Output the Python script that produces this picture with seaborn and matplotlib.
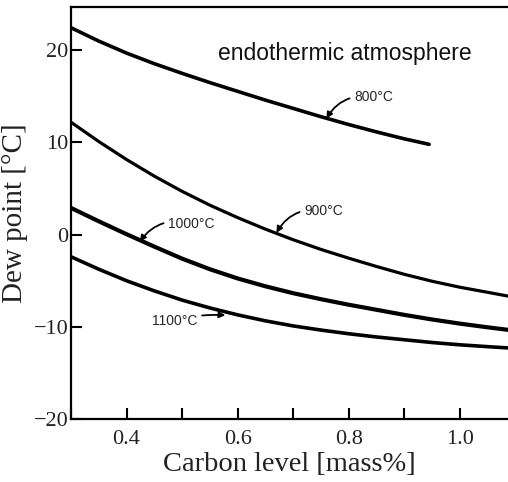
# Dew point vs carbon level in an endothermic atmosphere
import numpy as np
import pandas as pd
import matplotlib
matplotlib.use("Agg")
import matplotlib.pyplot as plt
import seaborn as sns

# ------------------------ #
# Data
# ------------------------ #
carbon_800 = [0.30, 0.35, 0.40, 0.45, 0.50, 0.55, 0.60, 0.65, 0.70, 0.75, 0.80, 0.85, 0.90, 0.945]
dew_800 = [22.45, 21.0, 19.7, 18.55, 17.5, 16.5, 15.55, 14.6, 13.7, 12.8, 11.95, 11.15, 10.4, 9.8]

carbon_all = [0.30, 0.35, 0.40, 0.45, 0.50, 0.55, 0.60, 0.65, 0.70, 0.75, 0.80, 0.85,
              0.90, 0.95, 1.00, 1.05, 1.09]
dew_900 = [12.2, 10.1, 8.15, 6.35, 4.7, 3.2, 1.85, 0.6, -0.55, -1.6, -2.55, -3.45,
           -4.3, -5.05, -5.7, -6.25, -6.7]
dew_1000 = [2.9, 1.45, 0.05, -1.3, -2.6, -3.75, -4.75, -5.6, -6.35, -7.0, -7.6, -8.15,
            -8.7, -9.2, -9.65, -10.05, -10.35]
dew_1100 = [-2.4, -3.75, -5.0, -6.1, -7.1, -7.95, -8.7, -9.35, -9.9, -10.35, -10.75, -11.1,
            -11.4, -11.7, -11.95, -12.15, -12.3]

x_major = [0.4, 0.6, 0.8, 1.0]
x_minor = [0.3, 0.5, 0.7, 0.9]
y_ticks = [-20, -10, 0, 10, 20]

# ------------------------ #
# Style
# ------------------------ #
sns.set_theme(style="ticks")
plt.rcParams["font.family"] = ["Liberation Serif", "DejaVu Serif"]
plt.rcParams["axes.unicode_minus"] = True

fig = plt.figure(figsize=(5.08, 4.82), dpi=100)
ax = fig.add_axes([0.1398, 0.1307, 0.8602, 0.8548])

line_kw = dict(color="black", solid_capstyle="round", legend=False)
sns.lineplot(x=carbon_800, y=dew_800, ax=ax, linewidth=2.6, **line_kw)
sns.lineplot(x=carbon_all, y=dew_900, ax=ax, linewidth=2.3, **line_kw)
sns.lineplot(x=carbon_all, y=dew_1000, ax=ax, linewidth=3.0, **line_kw)
sns.lineplot(x=carbon_all, y=dew_1100, ax=ax, linewidth=2.6, **line_kw)

ax.set_xlim(0.3, 1.087)
ax.set_ylim(-20, 24.7)
ax.set_xticks(x_major)
ax.set_xticklabels(["0.4", "0.6", "0.8", "1.0"])
ax.set_xticks(x_minor, minor=True)
ax.set_yticks(y_ticks)
ax.set_yticklabels(["\u221220", "\u221210", "0", "10", "20"])
ax.tick_params(axis="both", which="both", direction="in", length=8, width=1.5,
               labelsize=16, color="black", labelcolor="#222222")
ax.tick_params(axis="x", pad=8)
ax.tick_params(axis="y", pad=2)

for side in ["left", "bottom", "top"]:
    ax.spines[side].set_color("black")
    ax.spines[side].set_linewidth(1.6)
ax.spines["right"].set_visible(False)

ax.set_xlabel("Carbon level [mass%]", fontsize=20.5, color="#222222", labelpad=2)
ax.set_ylabel("Dew point [\u00b0C]", fontsize=21, color="#222222", labelpad=4)

# ------------------------ #
# Annotations
# ------------------------ #
sans = ["Liberation Sans", "DejaVu Sans"]
ax.text(0.564, 19.7, "endothermic atmosphere", family=sans, fontsize=16.5,
        ha="left", va="center", color="#111111")

arrow = dict(arrowstyle="-|>", color="black", lw=1.3, mutation_scale=9,
             shrinkA=1, shrinkB=0)
ax.annotate("800\u00b0C", xy=(0.76, 12.6), xytext=(0.81, 14.9), family=sans, fontsize=10,
            ha="left", va="center",
            arrowprops=dict(connectionstyle="arc3,rad=0.35", **arrow))
ax.annotate("900\u00b0C", xy=(0.67, 0.2), xytext=(0.72, 2.6), family=sans, fontsize=10,
            ha="left", va="center",
            arrowprops=dict(connectionstyle="arc3,rad=0.35", **arrow))
ax.annotate("1000\u00b0C", xy=(0.424, -0.75), xytext=(0.475, 1.2), family=sans, fontsize=10,
            ha="left", va="center",
            arrowprops=dict(connectionstyle="arc3,rad=0.35", **arrow))
ax.annotate("1100\u00b0C", xy=(0.578, -8.75), xytext=(0.446, -9.4), family=sans, fontsize=10,
            ha="left", va="center",
            arrowprops=dict(connectionstyle="arc3,rad=-0.1", **arrow))

fig.savefig("out.png", dpi=100)
